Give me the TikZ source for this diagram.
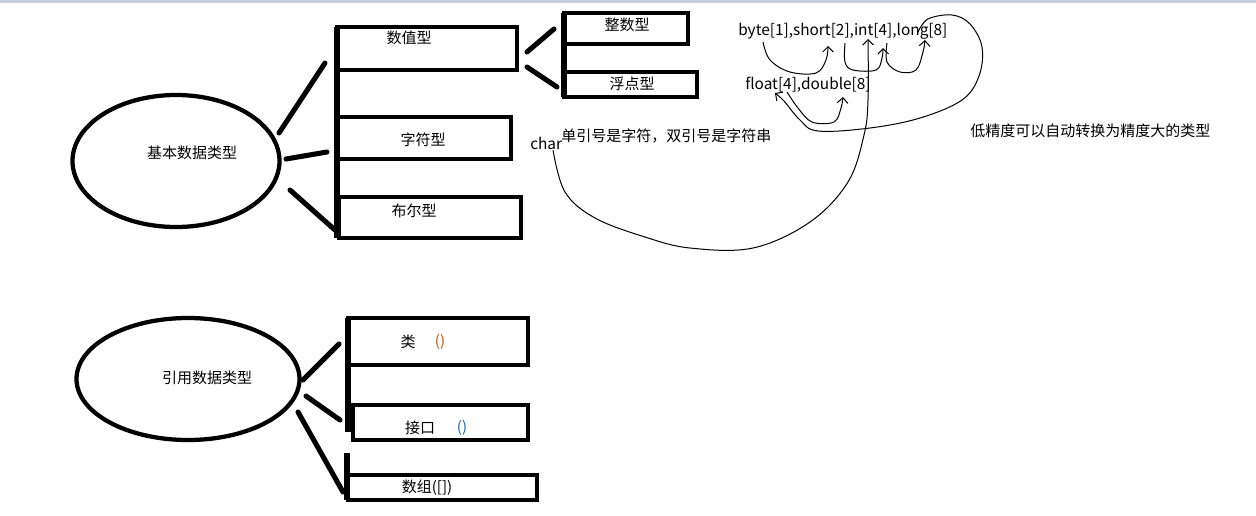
\documentclass[tikz,border=0pt]{standalone}
\usepackage{fontspec}
\setmainfont{Noto Sans CJK SC}
\usetikzlibrary{arrows.meta,shapes.geometric}
\definecolor{topband}{RGB}{200,208,224}
\definecolor{parorange}{RGB}{190,90,20}
\definecolor{parblue}{RGB}{30,100,180}
\tikzset{
  box/.style={draw=black, line width=3.6pt, rectangle, inner sep=0pt},
  oval/.style={draw=black, line width=3.2pt, ellipse, inner sep=0pt},
  stroke/.style={line width=3.8pt, line cap=round},
  spine/.style={line width=3.8pt},
  lbl/.style={inner sep=0pt, font=\fontsize{11.25pt}{13pt}\selectfont},
  latlbl/.style={inner sep=0pt, font=\fontsize{11.55pt}{13pt}\selectfont},
  pen/.style={line width=0.75pt, line join=round},
  penarrow/.style={pen, -{Straight Barb[length=4pt,width=8pt,line width=0.75pt]}}
}
\begin{document}
\begin{tikzpicture}[x=0.75pt,y=-0.75pt]
\useasboundingbox (0,0) rectangle (1256,515);
\fill[topband] (0,0) rectangle (1256,2.5);

% ovals
\node[oval, minimum width=155.25pt, minimum height=99pt] (ell1) at (176,161) {};
\node[lbl] (ell1t) at (192,153) {基本数据类型};
\node[oval, minimum width=167.25pt, minimum height=91.5pt] (ell2) at (188,379) {};
\node[lbl] (ell2t) at (207,378) {引用数据类型};

% top group boxes
\node[box, minimum width=135pt, minimum height=32.25pt] (numbox) at (427,48.5) {};
\node[box, minimum width=130.5pt, minimum height=31.5pt] (charbox) at (424,138) {};
\node[box, minimum width=136.5pt, minimum height=30.75pt] (boolbox) at (430,217.5) {};
\node[box, minimum width=93pt, minimum height=23.25pt] (intbox) at (626,28.5) {};
\node[box, minimum width=99.75pt, minimum height=18.75pt] (floatbox) at (630.5,84.5) {};
\node[lbl] (numt) at (409,38) {数值型};
\node[lbl] (chart) at (423,140) {字符型};
\node[lbl] (boolt) at (414,211) {布尔型};
\node[lbl] (intt) at (627,25) {整数型};
\node[lbl] (floatt) at (632,84) {浮点型};

% spines
\draw[spine] (337,27) -- (337,238);
\draw[spine] (564,13) -- (564,97);

% strokes from oval 1
\coordinate (s1a) at (279,133); \coordinate (s1b) at (325,63);
\coordinate (s2a) at (286,159); \coordinate (s2b) at (327,152);
\coordinate (s3a) at (290,190); \coordinate (s3b) at (335,230);
\draw[stroke] (s1a) -- (s1b);
\draw[stroke] (s2a) -- (s2b);
\draw[stroke] (s3a) -- (s3b);
\coordinate (s4a) at (527,52); \coordinate (s4b) at (554,29);
\coordinate (s5a) at (527,67); \coordinate (s5b) at (557,87);
\draw[stroke] (s4a) -- (s4b);
\draw[stroke] (s5a) -- (s5b);

% bottom group boxes
\node[box, minimum width=135pt, minimum height=35.25pt] (classbox) at (438,341.5) {};
\node[box, minimum width=131.25pt, minimum height=26.25pt] (ifbox) at (440.5,422.5) {};
\node[box, minimum width=141.75pt, minimum height=18.75pt] (arrbox) at (442.5,487.5) {};
\node[lbl] (classt) at (408,342) {类};
\node[lbl, text=parorange] (classp) at (440,342) {()};
\node[lbl] (ift) at (420,428) {接口};
\node[lbl, text=parblue] (ifp) at (462,428) {()};
\node[lbl] (arrt) at (427,488) {数组([])};
\draw[spine] (348,318) -- (348,432);
\draw[spine] (347,453) -- (347,500);

\coordinate (b1a) at (303,380); \coordinate (b1b) at (339,344);
\coordinate (b2a) at (306,396); \coordinate (b2b) at (340,420);
\coordinate (b3a) at (298,412); \coordinate (b3b) at (343,492);
\draw[stroke] (b1a) -- (b1b);
\draw[stroke] (b2a) -- (b2b);
\draw[stroke] (b3a) -- (b3b);

% annotation texts
\node[latlbl, anchor=west] (types) at (738,31) {byte[1],short[2],int[4],long[8]};
\node[latlbl, anchor=west] (ftypes) at (745,85) {float[4],double[8]};
\node[latlbl, anchor=west] (chartxt) at (530,143) {char};
\node[lbl, anchor=west] (quote) at (561,136) {单引号是字符，双引号是字符串};
\node[lbl, anchor=west] (prec) at (970,131) {低精度可以自动转换为精度大的类型};

% hand-drawn conversion arrows
\draw[penarrow] plot[smooth, tension=0.6] coordinates {(763,42) (770,60) (790,72) (816,73) (826,60) (828,46)};
\draw[penarrow] plot[smooth, tension=0.6] coordinates {(845,43) (845,62) (853,70) (876,70) (882,58) (883,48)};
\draw[penarrow] plot[smooth, tension=0.6] coordinates {(887,43) (887,62) (900,72) (916,70) (923,52) (925,40)};
\draw[penarrow] plot[smooth, tension=0.6] coordinates {(553,150) (565,192) (595,218) (645,237) (690,248) (753,248) (810,222) (848,182) (864,135) (868,100) (868,39)};
\draw[penarrow] plot[smooth, tension=0.6] coordinates {(918,32) (928,19) (952,15) (970,24) (982,47) (979,76) (962,100) (920,118) (870,128) (818,131) (800,120) (784,101) (775,93)};
\draw[penarrow] plot[smooth, tension=0.6] coordinates {(787,92) (798,108) (812,122) (834,122) (841,108) (843,97)};
\end{tikzpicture}
\end{document}
